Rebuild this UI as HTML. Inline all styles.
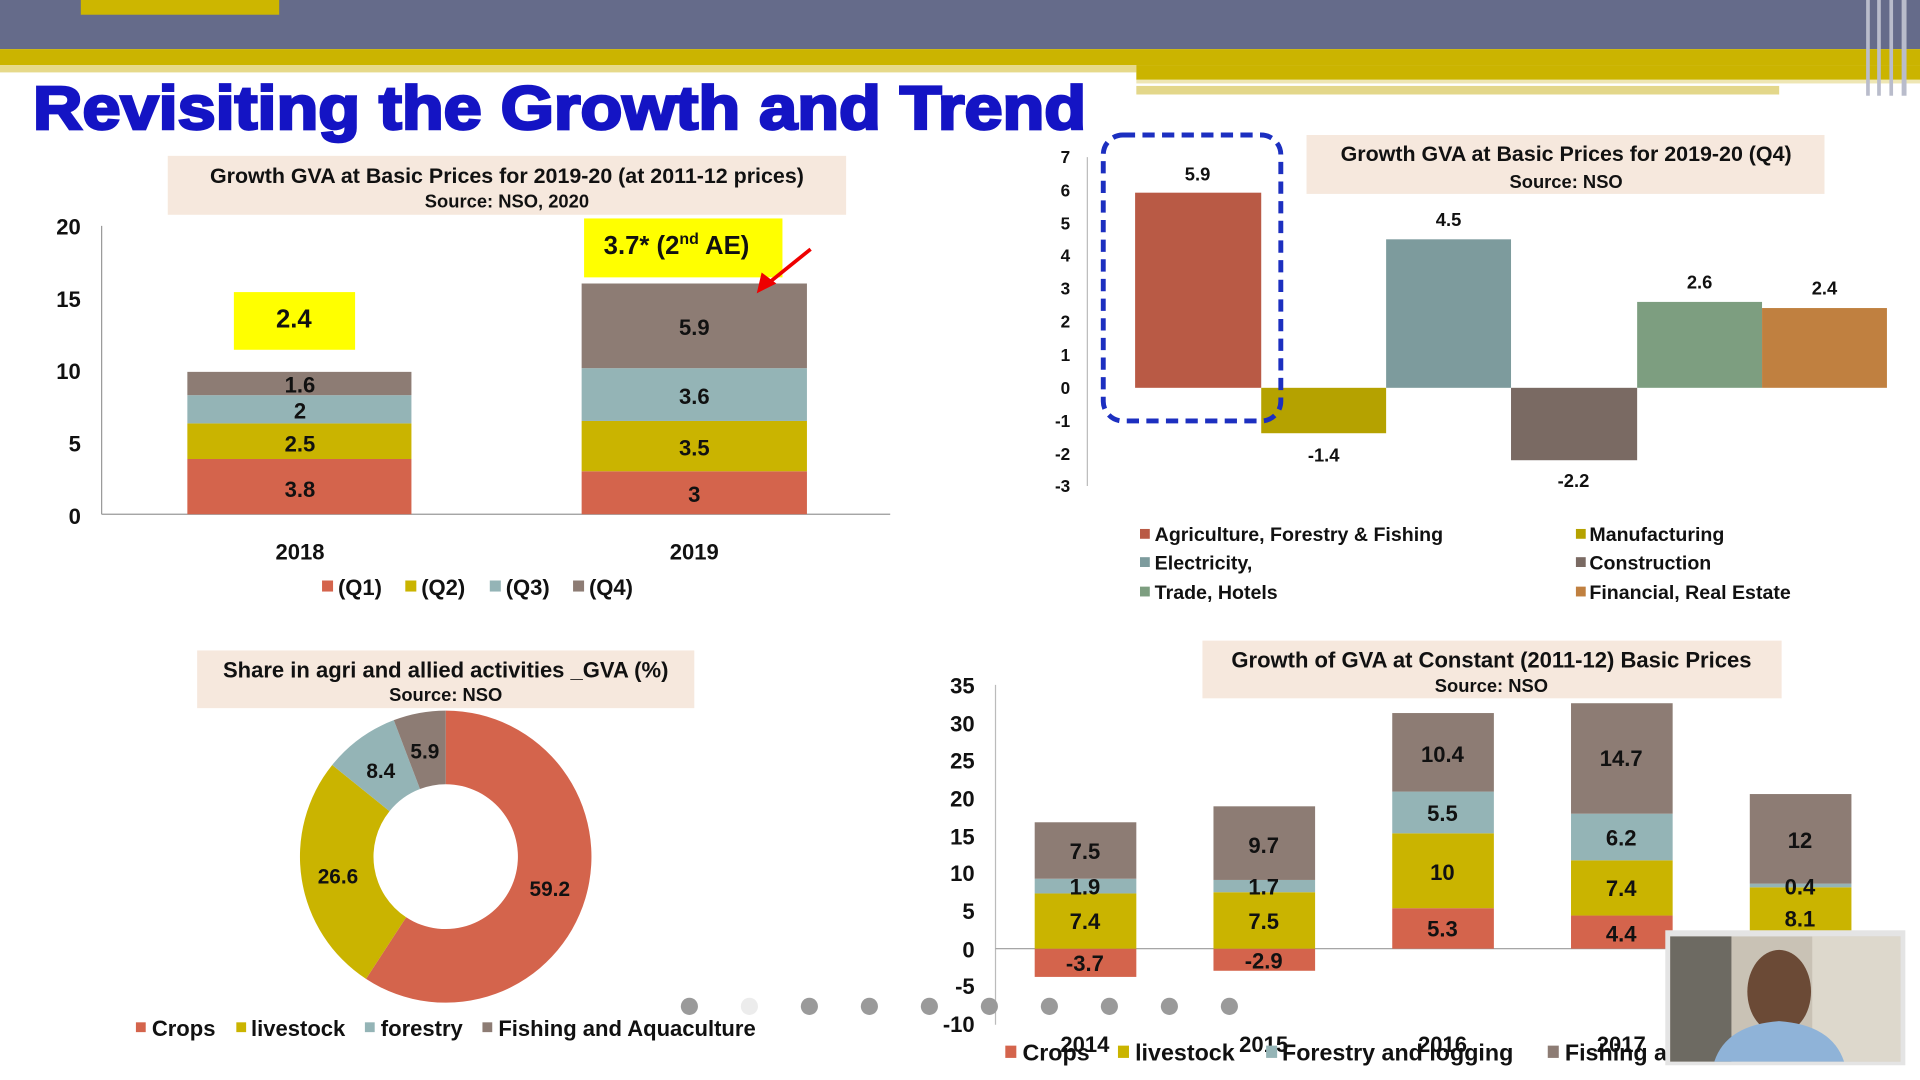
<!DOCTYPE html>
<html><head><meta charset="utf-8"><style>
html,body{margin:0;padding:0;background:#fff;overflow:hidden}
svg{display:block}
text{font-family:"Liberation Sans",sans-serif;font-weight:bold;fill:#111}
</style></head><body>
<svg width="1920" height="1080" viewBox="0 0 1568 880" preserveAspectRatio="none">
<rect width="1568" height="880" fill="#fff"/>
<!-- header -->
<rect x="0" y="0" width="1568" height="40" fill="#656b8a"/>
<rect x="66" y="0" width="162" height="12" fill="#cdb600"/>
<rect x="0" y="40" width="1568" height="13" fill="#cbb400"/>
<rect x="0" y="53" width="928" height="6" fill="#e6d98a"/>
<rect x="928" y="53" width="640" height="12" fill="#cbb400"/>
<rect x="928" y="65" width="640" height="3" fill="#eee6b4"/>
<rect x="928" y="70" width="525" height="7" fill="#e3d78a"/>
<g fill="#b9bccb"><rect x="1524" y="0" width="3" height="78"/><rect x="1533" y="0" width="3" height="78"/><rect x="1543" y="0" width="3" height="78"/><rect x="1553" y="0" width="4" height="78"/></g>
<text x="27" y="105" font-size="50" style="fill:#1414c4;stroke:#1414c4;stroke-width:2.2" textLength="860" lengthAdjust="spacingAndGlyphs">Revisiting the Growth and Trend</text>

<!-- Chart 1 -->
<rect x="137" y="127" width="554" height="48" fill="#f6e8dd"/>
<text x="414" y="149" font-size="17.5" text-anchor="middle">Growth GVA at Basic Prices for 2019-20 (at 2011-12 prices)</text>
<text x="414" y="169" font-size="15" text-anchor="middle">Source: NSO, 2020</text>
<g font-size="18" text-anchor="end">
<text x="66" y="191">20</text><text x="66" y="250">15</text><text x="66" y="309">10</text><text x="66" y="368">5</text><text x="66" y="427">0</text>
</g>
<line x1="83" y1="184" x2="83" y2="419" stroke="#999"/>
<line x1="83" y1="419" x2="727" y2="419" stroke="#999"/>
<rect x="153" y="374" width="183" height="45" fill="#d4644c"/>
<rect x="153" y="345" width="183" height="29" fill="#cab400"/>
<rect x="153" y="322" width="183" height="23" fill="#94b4b6"/>
<rect x="153" y="303" width="183" height="19" fill="#8d7c74"/>
<rect x="475" y="384" width="184" height="35" fill="#d4644c"/>
<rect x="475" y="343" width="184" height="41" fill="#cab400"/>
<rect x="475" y="300" width="184" height="43" fill="#94b4b6"/>
<rect x="475" y="231" width="184" height="69" fill="#8d7c74"/>
<g font-size="18" text-anchor="middle">
<text x="245" y="405">3.8</text><text x="245" y="368">2.5</text><text x="245" y="341">2</text><text x="245" y="320">1.6</text>
<text x="567" y="409">3</text><text x="567" y="371">3.5</text><text x="567" y="329">3.6</text><text x="567" y="273">5.9</text>
<text x="245" y="456">2018</text><text x="567" y="456">2019</text>
</g>
<rect x="191" y="238" width="99" height="47" fill="#ffff00"/>
<text x="240" y="267" font-size="21" text-anchor="middle">2.4</text>
<rect x="477" y="178" width="162" height="48" fill="#ffff00"/>
<text x="493" y="207" font-size="21">3.7* (2<tspan font-size="13" dy="-8">nd</tspan><tspan dy="8"> AE)</tspan></text>
<line x1="662" y1="203" x2="626" y2="232" stroke="#e00" stroke-width="3"/>
<polygon points="618,239 622,222 634,231" fill="#e00"/>
<g font-size="18">
<rect x="263" y="473" width="9" height="9" fill="#d4644c"/><text x="276" y="485">(Q1)</text>
<rect x="331" y="473" width="9" height="9" fill="#cab400"/><text x="344" y="485">(Q2)</text>
<rect x="400" y="473" width="9" height="9" fill="#94b4b6"/><text x="413" y="485">(Q3)</text>
<rect x="468" y="473" width="9" height="9" fill="#8d7c74"/><text x="481" y="485">(Q4)</text>
</g>

<!-- Chart 2 -->
<rect x="1067" y="110" width="423" height="48" fill="#f6e8dd"/>
<text x="1279" y="131" font-size="17.5" text-anchor="middle">Growth GVA at Basic Prices for 2019-20 (Q4)</text>
<text x="1279" y="153" font-size="15" text-anchor="middle">Source: NSO</text>
<g font-size="14" text-anchor="end">
<text x="874" y="133">7</text><text x="874" y="160">6</text><text x="874" y="187">5</text><text x="874" y="213">4</text><text x="874" y="240">3</text><text x="874" y="267">2</text><text x="874" y="294">1</text><text x="874" y="321">0</text><text x="874" y="348">-1</text><text x="874" y="375">-2</text><text x="874" y="401">-3</text>
</g>
<line x1="888" y1="128" x2="888" y2="396" stroke="#bbb"/>
<rect x="927" y="157" width="103" height="159" fill="#b95a45"/>
<rect x="1030" y="316" width="102" height="37" fill="#b5a200"/>
<rect x="1132" y="195" width="102" height="121" fill="#7d9b9d"/>
<rect x="1234" y="316" width="103" height="59" fill="#7a6a63"/>
<rect x="1337" y="246" width="102" height="70" fill="#7d9e80"/>
<rect x="1439" y="251" width="102" height="65" fill="#c08040"/>
<g font-size="15" text-anchor="middle">
<text x="978" y="147">5.9</text><text x="1081" y="376">-1.4</text><text x="1183" y="184">4.5</text><text x="1285" y="397">-2.2</text><text x="1388" y="235">2.6</text><text x="1490" y="240">2.4</text>
</g>
<rect x="901" y="110" width="145" height="233" rx="16" fill="none" stroke="#1c2fc0" stroke-width="4" stroke-dasharray="10,6"/>
<g font-size="16">
<rect x="931" y="431" width="8" height="8" fill="#b95a45"/><text x="943" y="441">Agriculture, Forestry &amp; Fishing</text>
<rect x="931" y="454" width="8" height="8" fill="#7d9b9d"/><text x="943" y="464">Electricity,</text>
<rect x="931" y="478" width="8" height="8" fill="#7d9e80"/><text x="943" y="488">Trade, Hotels</text>
<rect x="1287" y="431" width="8" height="8" fill="#b5a200"/><text x="1298" y="441">Manufacturing</text>
<rect x="1287" y="454" width="8" height="8" fill="#7a6a63"/><text x="1298" y="464">Construction</text>
<rect x="1287" y="478" width="8" height="8" fill="#c08040"/><text x="1298" y="488">Financial, Real Estate</text>
</g>

<!-- Chart 3 donut -->
<rect x="161" y="530" width="406" height="47" fill="#f6e8dd"/>
<text x="364" y="552" font-size="18" text-anchor="middle">Share in agri and allied activities _GVA (%)</text>
<text x="364" y="571" font-size="15" text-anchor="middle">Source: NSO</text>
<path d="M364,579 A119,119 0 1 1 298.9,797.6 L331.7,747.4 A59,59 0 1 0 364,639 Z" fill="#d4644c"/>
<path d="M298.9,797.6 A119,119 0 0 1 271.3,623.3 L318.1,661 A59,59 0 0 0 331.7,747.4 Z" fill="#cab400"/>
<path d="M271.3,623.3 A119,119 0 0 1 321.6,586.8 L343,642.9 A59,59 0 0 0 318.1,661 Z" fill="#94b4b6"/>
<path d="M321.6,586.8 A119,119 0 0 1 364,579 L364,639 A59,59 0 0 0 343,642.9 Z" fill="#8d7c74"/>
<g font-size="17" text-anchor="middle">
<text x="449" y="730">59.2</text><text x="276" y="720">26.6</text><text x="311" y="634">8.4</text><text x="347" y="618">5.9</text>
</g>
<g font-size="18">
<rect x="111" y="833" width="8" height="8" fill="#d4644c"/><text x="124" y="844">Crops</text>
<rect x="193" y="833" width="8" height="8" fill="#cab400"/><text x="205" y="844">livestock</text>
<rect x="298" y="833" width="8" height="8" fill="#94b4b6"/><text x="311" y="844">forestry</text>
<rect x="394" y="833" width="8" height="8" fill="#8d7c74"/><text x="407" y="844">Fishing and Aquaculture</text>
</g>

<!-- Chart 4 -->
<rect x="982" y="522" width="473" height="47" fill="#f6e8dd"/>
<text x="1218" y="544" font-size="18" text-anchor="middle">Growth of GVA at Constant (2011-12) Basic Prices</text>
<text x="1218" y="564" font-size="15" text-anchor="middle">Source: NSO</text>
<g font-size="18" text-anchor="end">
<text x="796" y="565">35</text><text x="796" y="596">30</text><text x="796" y="626">25</text><text x="796" y="657">20</text><text x="796" y="688">15</text><text x="796" y="718">10</text><text x="796" y="749">5</text><text x="796" y="780">0</text><text x="796" y="810">-5</text><text x="796" y="841">-10</text>
</g>
<line x1="813" y1="558" x2="813" y2="835" stroke="#bbb"/>
<line x1="813" y1="773" x2="1540" y2="773" stroke="#999"/>
<rect x="845" y="773" width="83" height="23" fill="#d4644c"/>
<rect x="845" y="728" width="83" height="45" fill="#cab400"/>
<rect x="845" y="716" width="83" height="12" fill="#94b4b6"/>
<rect x="845" y="670" width="83" height="46" fill="#8d7c74"/>
<rect x="991" y="773" width="83" height="18" fill="#d4644c"/>
<rect x="991" y="727" width="83" height="46" fill="#cab400"/>
<rect x="991" y="717" width="83" height="10" fill="#94b4b6"/>
<rect x="991" y="657" width="83" height="60" fill="#8d7c74"/>
<rect x="1137" y="740" width="83" height="33" fill="#d4644c"/>
<rect x="1137" y="679" width="83" height="61" fill="#cab400"/>
<rect x="1137" y="645" width="83" height="34" fill="#94b4b6"/>
<rect x="1137" y="581" width="83" height="64" fill="#8d7c74"/>
<rect x="1283" y="746" width="83" height="27" fill="#d4644c"/>
<rect x="1283" y="701" width="83" height="45" fill="#cab400"/>
<rect x="1283" y="663" width="83" height="38" fill="#94b4b6"/>
<rect x="1283" y="573" width="83" height="90" fill="#8d7c74"/>
<rect x="1429" y="723" width="83" height="50" fill="#cab400"/>
<rect x="1429" y="720" width="83" height="3" fill="#94b4b6"/>
<rect x="1429" y="647" width="83" height="73" fill="#8d7c74"/>
<g font-size="18" text-anchor="middle">
<text x="886" y="791">-3.7</text><text x="886" y="757">7.4</text><text x="886" y="729">1.9</text><text x="886" y="700">7.5</text>
<text x="1032" y="789">-2.9</text><text x="1032" y="757">7.5</text><text x="1032" y="729">1.7</text><text x="1032" y="695">9.7</text>
<text x="1178" y="763">5.3</text><text x="1178" y="717">10</text><text x="1178" y="669">5.5</text><text x="1178" y="621">10.4</text>
<text x="1324" y="767">4.4</text><text x="1324" y="730">7.4</text><text x="1324" y="689">6.2</text><text x="1324" y="624">14.7</text>
<text x="1470" y="755">8.1</text><text x="1470" y="729">0.4</text><text x="1470" y="691">12</text>
</g>
<g font-size="18" text-anchor="middle">
<text x="886" y="857">2014</text><text x="1032" y="857">2015</text><text x="1178" y="857">2016</text><text x="1324" y="857">2017</text>
</g>
<g font-size="19">
<rect x="821" y="852" width="9" height="10" fill="#d4644c"/><text x="835" y="864">Crops</text>
<rect x="913" y="852" width="9" height="10" fill="#cab400"/><text x="927" y="864">livestock</text>
<rect x="1034" y="852" width="9" height="10" fill="#94b4b6"/><text x="1047" y="864">Forestry and logging</text>
<rect x="1264" y="852" width="9" height="10" fill="#8d7c74"/><text x="1278" y="864">Fishing a</text>
</g>

<g fill="#9a9a9a">
<circle cx="563" cy="820" r="7"/><circle cx="612" cy="820" r="7" fill="#ececec"/><circle cx="661" cy="820" r="7"/><circle cx="710" cy="820" r="7"/><circle cx="759" cy="820" r="7"/><circle cx="808" cy="820" r="7"/><circle cx="857" cy="820" r="7"/><circle cx="906" cy="820" r="7"/><circle cx="955" cy="820" r="7"/><circle cx="1004" cy="820" r="7"/>
</g>

<rect x="1360" y="758" width="196" height="110" fill="#e4e4e4"/>
<rect x="1364" y="763" width="188" height="102" fill="#c9c2b5"/>
<rect x="1364" y="763" width="50" height="102" fill="#6d6a62"/>
<rect x="1480" y="763" width="72" height="102" fill="#ddd8cc"/>
<ellipse cx="1453" cy="808" rx="26" ry="34" fill="#6b4a36"/>
<path d="M1400,865 Q1410,835 1453,832 Q1496,835 1506,865 Z" fill="#8fb3d8"/>
</svg>
</body></html>
